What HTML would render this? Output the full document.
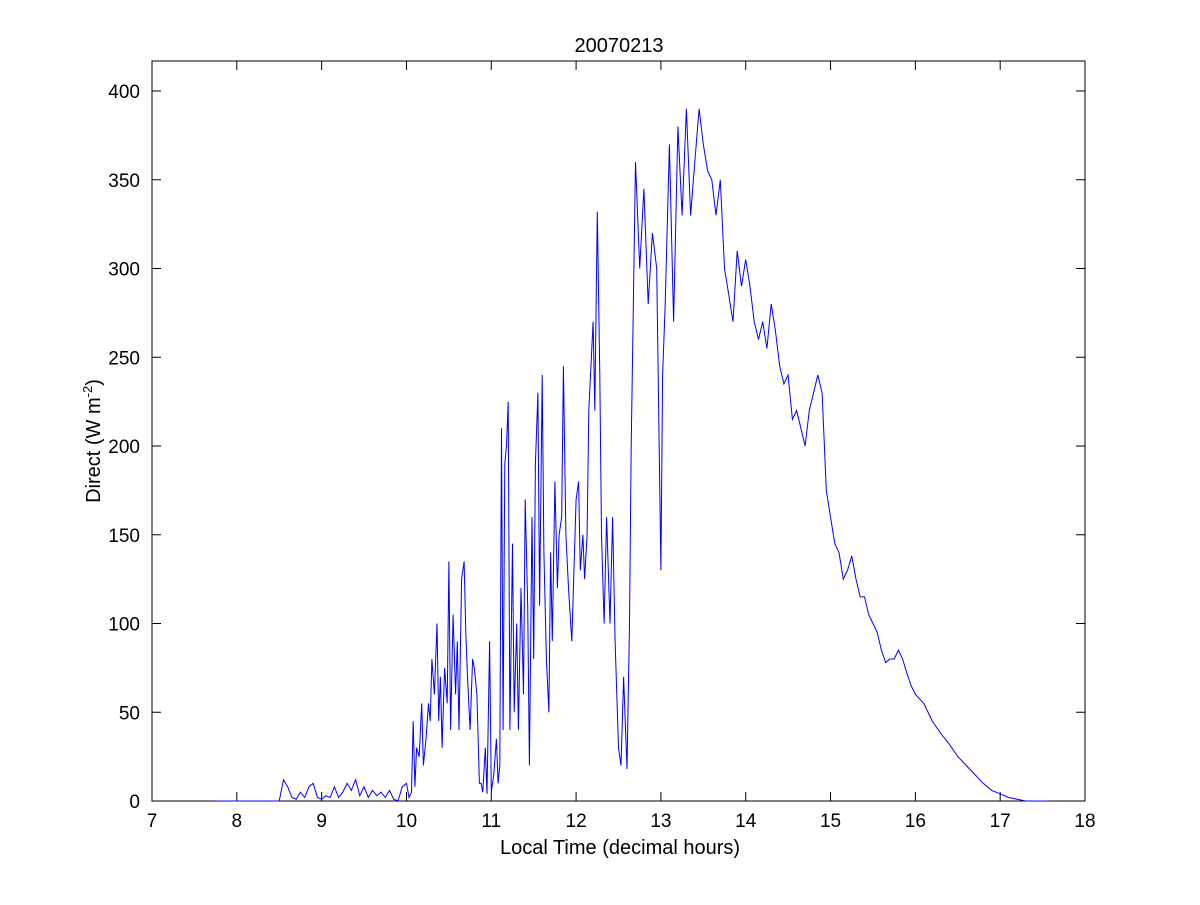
<!DOCTYPE html>
<html><head><meta charset="utf-8"><style>
body{margin:0;background:#fff}
svg text{font-family:"Liberation Sans",Arial,sans-serif;fill:#000}
</style></head><body>
<svg id="chart" width="1200" height="900"></svg>
<script>
const times=[7.75,8.5,8.55,8.6,8.65,8.7,8.75,8.8,8.85,8.9,8.95,9.0,9.05,9.1,9.15,9.2,9.25,9.3,9.35,9.4,9.45,9.5,9.55,9.6,9.65,9.7,9.75,9.8,9.85,9.9,9.95,10.0,10.03,10.06,10.08,10.1,10.12,10.15,10.18,10.2,10.23,10.26,10.28,10.3,10.33,10.36,10.38,10.4,10.42,10.45,10.48,10.5,10.52,10.55,10.58,10.6,10.62,10.65,10.68,10.7,10.72,10.75,10.78,10.8,10.83,10.86,10.88,10.9,10.93,10.95,10.98,11.0,11.03,11.06,11.08,11.1,11.12,11.14,11.16,11.18,11.2,11.22,11.25,11.27,11.3,11.32,11.35,11.38,11.4,11.43,11.45,11.48,11.5,11.52,11.55,11.57,11.6,11.62,11.65,11.68,11.7,11.72,11.75,11.78,11.8,11.83,11.85,11.88,11.91,11.95,12.0,12.03,12.05,12.08,12.1,12.13,12.15,12.2,12.22,12.25,12.28,12.3,12.33,12.36,12.4,12.43,12.46,12.5,12.53,12.56,12.6,12.63,12.65,12.7,12.75,12.8,12.85,12.9,12.95,13.0,13.02,13.05,13.1,13.15,13.2,13.25,13.3,13.35,13.4,13.45,13.5,13.55,13.6,13.65,13.7,13.75,13.8,13.85,13.9,13.95,14.0,14.05,14.1,14.15,14.2,14.25,14.3,14.35,14.4,14.45,14.5,14.55,14.6,14.65,14.7,14.75,14.8,14.85,14.9,14.95,15.0,15.05,15.1,15.15,15.2,15.25,15.3,15.35,15.4,15.45,15.5,15.55,15.6,15.65,15.7,15.75,15.8,15.85,15.9,15.95,16.0,16.1,16.2,16.3,16.4,16.5,16.6,16.7,16.8,16.9,17.0,17.1,17.2,17.3,17.55];
const values=[0,0,12,8,2,1,5,2,8,10,2,1,3,2,8,2,5,10,6,12,3,8,2,6,3,5,2,6,1,0,8,10,2,5,45,8,30,25,55,20,35,55,45,80,60,100,45,70,30,75,55,135,40,105,60,90,40,125,135,95,70,40,80,75,60,10,10,5,30,4,90,5,15,35,10,20,210,40,190,200,225,40,145,50,100,40,120,60,170,110,20,160,80,190,230,110,240,140,80,50,140,90,180,120,150,160,245,150,120,90,170,180,130,150,125,150,220,270,220,332,240,150,100,160,100,160,90,30,20,70,18,100,200,360,300,345,280,320,300,130,240,280,370,270,380,330,390,330,360,390,370,355,350,330,350,300,285,270,310,290,305,290,270,260,270,255,280,265,245,235,240,215,220,210,200,220,230,240,230,175,160,145,140,125,130,138,125,115,115,105,100,95,85,78,80,80,85,80,72,65,60,55,45,38,32,25,20,15,10,6,4,2,1,0,0];
const xTicks=[7,8,9,10,11,12,13,14,15,16,17,18];
const yTicks=[0,50,100,150,200,250,300,350,400];
const NS="http://www.w3.org/2000/svg";
const svg=document.getElementById('chart');
const L=152,R=1085,T=61,B=801;
const xs=v=>L+(v-7)/11*(R-L);
const ys=v=>B-(v/400)*(B-91);
function mk(tag,attrs,parent){const e=document.createElementNS(NS,tag);for(const k in attrs)e.setAttribute(k,attrs[k]);(parent||svg).appendChild(e);return e;}
const box=mk('rect',{x:L,y:T,width:R-L,height:B-T,fill:'#fff',stroke:'#000','stroke-width':1});


xTicks.forEach(t=>{const x=xs(t);
 const g=mk('g',{});
 
 
 mk('line',{x1:x,y1:B,x2:x,y2:B-9,stroke:'#000'},g);
 mk('line',{x1:x,y1:T,x2:x,y2:T+9,stroke:'#000'},g);
 const tx=mk('text',{x:x,y:B+26,'text-anchor':'middle',style:'font-size:19px'},g);tx.textContent=t;});
yTicks.forEach(t=>{const y=ys(t);
 const g=mk('g',{});
 
 
 mk('line',{x1:L,y1:y,x2:L+9,y2:y,stroke:'#000'},g);
 mk('line',{x1:R,y1:y,x2:R-9,y2:y,stroke:'#000'},g);
 const tx=mk('text',{x:L-12,y:y+7,'text-anchor':'end',style:'font-size:19px'},g);tx.textContent=t;});
let d='';times.forEach((t,i)=>{d+=(i?'L':'M')+xs(t).toFixed(1)+','+ys(values[i]).toFixed(1);});
const line=mk('path',{d:d,fill:'none',stroke:'#0000ff','stroke-width':1});


const title=mk('text',{x:619,y:52,'text-anchor':'middle',style:'font-size:20px'});title.textContent='20070213';


const xl=mk('text',{x:620,y:854,'text-anchor':'middle',style:'font-size:20px'});xl.textContent='Local Time (decimal hours)';


const yl=mk('text',{transform:'translate(100,441) rotate(-90)','text-anchor':'middle',style:'font-size:20px'});
yl.innerHTML='Direct (W m<tspan dy="-8" style="font-size:13px">-2</tspan><tspan dy="8">)</tspan>';


</script>
</body></html>
